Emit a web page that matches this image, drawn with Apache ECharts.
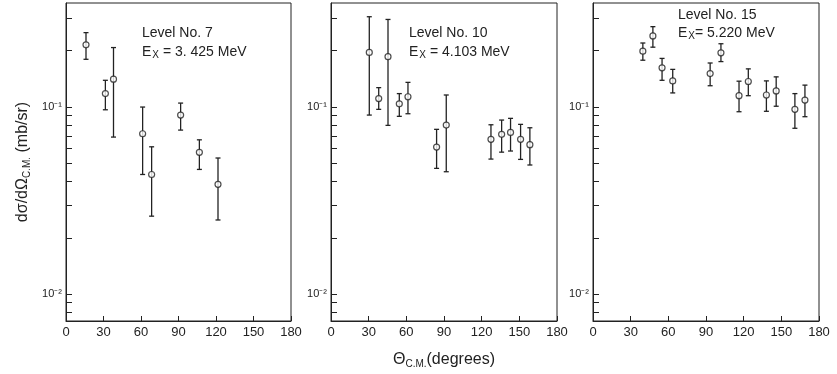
<!DOCTYPE html>
<html>
<head>
<meta charset="utf-8">
<script src="https://cdn.jsdelivr.net/npm/echarts@6/dist/echarts.min.js"></script>
<style>
  html, body { margin: 0; padding: 0; background: #fff; }
  #chart { width: 837px; height: 374px; }
</style>
</head>
<body>
<div id="chart"></div>
<script>
// Level No. 7, Ex = 3.425 MeV
const angles7 = [16, 31.5, 38, 61.3, 68.5, 91.7, 106.7, 121.6];
const values7 = [0.215, 0.118, 0.141, 0.072, 0.0436, 0.0906, 0.0573, 0.0386];
const upper7 = [0.25, 0.139, 0.208, 0.1, 0.0613, 0.105, 0.0668, 0.0534];
const lower7 = [0.18, 0.0967, 0.0691, 0.0436, 0.0261, 0.0753, 0.0464, 0.0249];

// Level No. 10, Ex = 4.103 MeV
const angles10 = [30.5, 38, 45.4, 54.4, 61.3, 84.1, 91.8, 127.4, 135.9, 143, 151, 158.4];
const values10 = [0.196, 0.111, 0.186, 0.104, 0.1135, 0.0611, 0.0801, 0.0672, 0.0715, 0.0732, 0.0672, 0.0629];
const upper10 = [0.304, 0.127, 0.294, 0.118, 0.1355, 0.076, 0.116, 0.0804, 0.0852, 0.087, 0.0808, 0.0775];
const lower10 = [0.0906, 0.0972, 0.0798, 0.0892, 0.0921, 0.047, 0.0451, 0.0527, 0.0574, 0.0582, 0.0525, 0.049];

// Level No. 15, Ex = 5.220 MeV
const angles15 = [39.7, 47.7, 55, 63.5, 93.3, 101.9, 116.3, 123.7, 138.1, 145.9, 160.8, 168.8];
const values15 = [0.199, 0.24, 0.162, 0.138, 0.151, 0.195, 0.115, 0.137, 0.116, 0.122, 0.0972, 0.109];
const upper15 = [0.22, 0.269, 0.182, 0.159, 0.172, 0.218, 0.1375, 0.16, 0.138, 0.145, 0.118, 0.131];
const lower15 = [0.178, 0.209, 0.139, 0.119, 0.13, 0.175, 0.0944, 0.115, 0.0949, 0.101, 0.077, 0.0888];

const xTicks = [0, 30, 60, 90, 120, 150, 180];
const yTickValues = [0.008, 0.009, 0.01, 0.02, 0.03, 0.04, 0.05, 0.06, 0.07, 0.08, 0.09, 0.1, 0.2, 0.3];
const yLabelValues = [0.01, 0.1];
const yLabelText = { 0.01: "10\u207B\u00B2", 0.1: "10\u207B\u00B9" };

const panels = [
  { angles: angles7, values: values7, upper: upper7, lower: lower7, level: "Level No. 7", ex: " = 3. 425 MeV", left: 66, width: 225, tx: 142, ty1: 26, ty2: 44 },
  { angles: angles10, values: values10, upper: upper10, lower: lower10, level: "Level No. 10", ex: " = 4.103 MeV", left: 331, width: 226, tx: 409, ty1: 26, ty2: 44 },
  { angles: angles15, values: values15, upper: upper15, lower: lower15, level: "Level No. 15", ex: "= 5.220 MeV", left: 593, width: 226, tx: 678, ty1: 8, ty2: 25 }
];

const ink = "#222";
const font = "Liberation Sans";

const chart = echarts.init(document.getElementById("chart"));

const grids = [], xAxes = [], yAxes = [], series = [], titles = [];

panels.forEach((p, i) => {
  grids.push({
    left: p.left, top: 3, width: p.width, height: 318,
    show: true, borderColor: ink, borderWidth: 1, backgroundColor: "#fff"
  });
  xAxes.push({
    gridIndex: i, type: "value", min: 0, max: 180, interval: 30,
    axisLine: { lineStyle: { color: ink } },
    axisTick: { inside: true, length: 5, lineStyle: { color: ink } },
    axisLabel: { color: ink, fontSize: 13, fontFamily: font, margin: 5 },
    splitLine: { show: false },
    name: i === 1 ? "{t|\u0398}{s|C.M.}{t|(degrees)}" : "",
    nameLocation: "middle", nameGap: 30,
    nameTextStyle: {
      rich: {
        t: { fontSize: 16, fontFamily: font, color: ink },
        s: { fontSize: 10, fontFamily: font, color: ink, padding: [8, 0, 0, 0] }
      }
    }
  });
  yAxes.push({
    gridIndex: i, type: "log", logBase: 10, min: 0.00718, max: 0.36,
    axisLine: { lineStyle: { color: ink } },
    axisTick: { inside: true, length: 6, customValues: yTickValues, lineStyle: { color: ink } },
    axisLabel: {
      customValues: yLabelValues, color: ink, fontSize: 11, fontFamily: font, margin: 4,
      formatter: (v) => yLabelText[v] || yLabelText[Math.round(v * 1000) / 1000] || ""
    },
    splitLine: { show: false },
    minorTick: { show: false },
    name: i === 0 ? "{t|d\u03C3/d\u03A9}{s|C.M.}{t| (mb/sr)}" : "",
    nameLocation: "middle", nameGap: 34, nameRotate: 90,
    nameTextStyle: {
      rich: {
        t: { fontSize: 16, fontFamily: font, color: ink },
        s: { fontSize: 10, fontFamily: font, color: ink, padding: [8, 0, 0, 0] }
      }
    }
  });
  // error bars
  series.push({
    type: "custom", xAxisIndex: i, yAxisIndex: i,
    data: p.angles.map((a, k) => [a, p.lower[k], p.upper[k]]),
    encode: { x: 0, y: [1, 2] },
    silent: true,
    renderItem: (params, api) => {
      const lo = api.coord([api.value(0), api.value(1)]);
      const hi = api.coord([api.value(0), api.value(2)]);
      const c = 2.5;
      const style = { stroke: ink, lineWidth: 1.3 };
      return {
        type: "group",
        children: [
          { type: "line", shape: { x1: lo[0], y1: lo[1], x2: hi[0], y2: hi[1] }, style },
          { type: "line", shape: { x1: lo[0] - c, y1: lo[1], x2: lo[0] + c, y2: lo[1] }, style },
          { type: "line", shape: { x1: hi[0] - c, y1: hi[1], x2: hi[0] + c, y2: hi[1] }, style }
        ]
      };
    },
    z: 2
  });
  // data points
  series.push({
    type: "scatter", xAxisIndex: i, yAxisIndex: i,
    data: p.angles.map((a, k) => [a, p.values[k]]),
    symbol: "circle", symbolSize: 6,
    itemStyle: { color: "#fff", borderColor: ink, borderWidth: 1.2 },
    silent: true, z: 3
  });
  titles.push({
    left: p.tx, top: p.ty1, text: p.level, padding: 0,
    textStyle: { fontSize: 14, fontWeight: "normal", fontFamily: font, color: ink }
  });
  titles.push({
    left: p.tx, top: p.ty2, text: "{n|E}{s|X}{n|" + p.ex + "}", padding: 0,
    textStyle: {
      fontWeight: "normal",
      rich: {
        n: { fontSize: 14, fontWeight: "normal", fontFamily: font, color: ink },
        s: { fontSize: 10, fontWeight: "normal", fontFamily: font, color: ink, padding: [6, 0, 0, 1] }
      }
    }
  });
});

chart.setOption({
  backgroundColor: "#fff",
  animation: false,
  title: titles,
  grid: grids,
  xAxis: xAxes,
  yAxis: yAxes,
  series: series
});
</script>
</body>
</html>
